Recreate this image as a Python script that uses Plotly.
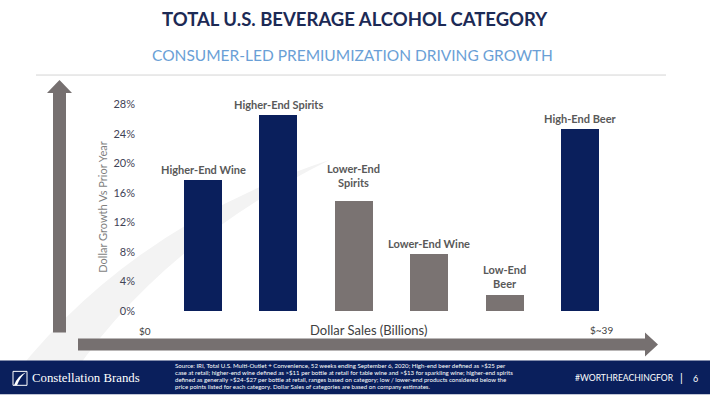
import plotly.graph_objects as go

# ---------------- data ----------------
categories = ["Higher-End Wine", "Higher-End Spirits", "Lower-End Spirits",
              "Lower-End Wine", "Low-End Beer", "High-End Beer"]
bar_labels = ["Higher-End Wine", "Higher-End Spirits", "Lower-End<br>Spirits",
              "Lower-End Wine", "Low-End<br>Beer", "High-End Beer"]
growth_pct = [17.8, 26.6, 14.9, 7.7, 2.2, 24.7]
tier = ["high", "high", "low", "low", "low", "high"]
y_ticks = [0, 4, 8, 12, 16, 20, 24, 28]
y_tick_labels = ["0%", "4%", "8%", "12%", "16%", "20%", "24%", "28%"]
x_axis_start_label = "$0"
x_axis_end_label = "$~39"

title = "TOTAL U.S. BEVERAGE ALCOHOL CATEGORY"
subtitle = "CONSUMER-LED PREMIUMIZATION DRIVING GROWTH"
source_lines = [
    "Source: IRI, Total U.S. Multi-Outlet + Convenience, 52 weeks ending September 6, 2020; High-end beer defined as >$25 per",
    "case at retail; higher-end wine defined as >$11 per bottle at retail for table wine and >$13 for sparkling wine; higher-end spirits",
    "defined as generally >$24-$27 per bottle at retail, ranges based on category; low / lower-end products considered below the",
    "price points listed for each category. Dollar Sales of categories are based on company estimates.",
]

# ---------------- style ----------------
NAVY = "#0a1f5c"
GRAY_BAR = "#7a7372"
ARROW = "#767070"
W, H = 710, 395
PL, PR, PT, PB = 140, 620, 95, 311.5  # plot area in pixels
label_gap = [2, 2, 10, 2, 3, 2]          # pixel gap between bar top and its label

colors = [NAVY if t == "high" else GRAY_BAR for t in tier]
x_pos = list(range(len(categories)))

def px(x):
    return (x - PL) / (PR - PL)

def py(y):
    return (PB - y) / (PB - PT)

fig = go.Figure()
fig.add_trace(go.Bar(
    x=x_pos, y=growth_pct, width=0.504,
    marker=dict(color=colors, line=dict(width=0)),
    hoverinfo="skip",
))

shapes = []
# background swoosh (decorative)
shapes.append(dict(type="path", xref="paper", yref="paper", layer="below",
    path=(f"M {px(0)},{py(395)} Q {px(120)},{py(230)} {px(330)},{py(160)} "
          f"Q {px(150)},{py(250)} {px(60)},{py(395)} Z"),
    fillcolor="#f3f3f3", line=dict(width=0)))
# top rule
shapes.append(dict(type="line", xref="paper", yref="paper",
    x0=px(36), x1=px(666), y0=py(75), y1=py(75),
    line=dict(color="#d4d4d4", width=1)))
# vertical arrow
shapes.append(dict(type="path", xref="paper", yref="paper",
    path=(f"M {px(53)},{py(333)} L {px(66)},{py(333)} L {px(66)},{py(93)} "
          f"L {px(72)},{py(93)} L {px(59.5)},{py(80)} L {px(47)},{py(93)} "
          f"L {px(53)},{py(93)} Z"),
    fillcolor=ARROW, line=dict(width=0)))
# horizontal arrow
shapes.append(dict(type="path", xref="paper", yref="paper",
    path=(f"M {px(78)},{py(339)} L {px(645)},{py(339)} L {px(645)},{py(333)} "
          f"L {px(658)},{py(345)} L {px(645)},{py(357)} L {px(645)},{py(351)} "
          f"L {px(78)},{py(351)} Z"),
    fillcolor=ARROW, line=dict(width=0)))
# footer band
shapes.append(dict(type="rect", xref="paper", yref="paper",
    x0=px(0), x1=px(710), y0=py(361), y1=py(395),
    fillcolor=NAVY, line=dict(width=0)))
# logo mark
shapes.append(dict(type="rect", xref="paper", yref="paper",
    x0=px(13), x1=px(27), y0=py(372), y1=py(386),
    fillcolor="rgba(0,0,0,0)", line=dict(color="white", width=1)))
shapes.append(dict(type="path", xref="paper", yref="paper",
    path=(f"M {px(14)},{py(386)} Q {px(18)},{py(376)} {px(26)},{py(373)} "
          f"Q {px(20)},{py(378)} {px(17)},{py(386)} Z"),
    fillcolor="white", line=dict(width=0)))

ann = []
# bar labels, anchored to the bar tops via the data axes
for xi, yi, lab, gap in zip(x_pos, growth_pct, bar_labels, label_gap):
    ann.append(dict(text=f"<b>{lab}</b>", x=xi, y=yi, xref="x", yref="y",
        xanchor="center", yanchor="bottom", yshift=gap, showarrow=False,
        font=dict(family="Lato", size=11, color="#595959")))

def add_text(text, x, y, size, color, family="Lato", anchor="center", angle=0):
    ann.append(dict(text=text, xref="paper", yref="paper", x=px(x), y=py(y),
        xanchor=anchor, yanchor="middle", showarrow=False, textangle=angle,
        font=dict(family=family, size=size, color=color)))

add_text(f"<b>{title}</b>", 355, 19, 18.5, "#1c2a55")
add_text(subtitle, 352, 55, 15.5, "#6a9fd6")
add_text("Dollar Growth Vs Prior Year", 103, 207, 11, "#7f7f7f", angle=-90)
add_text("Dollar Sales (Billions)", 368, 331, 13, "#404040")
add_text(x_axis_start_label, 145, 332, 10, "#404040")
add_text(x_axis_end_label, 601, 331, 10, "#404040")
add_text("Constellation Brands", 30, 378.5, 12.8, "white", family="Liberation Serif", anchor="left")
for i, line in enumerate(source_lines):
    add_text(line, 173, 366 + 7 * i, 6.1, "white", anchor="left")
add_text("#WORTHREACHINGFOR", 624.5, 379, 8.6, "white")
add_text("|", 681, 378, 11, "white")
add_text("6", 695, 379, 9, "white")

fig.update_layout(
    width=W, height=H, autosize=False,
    margin=dict(l=PL, r=W - PR, t=PT, b=H - PB, pad=0),
    paper_bgcolor="white", plot_bgcolor="rgba(0,0,0,0)",
    showlegend=False, shapes=shapes, annotations=ann,
    xaxis=dict(range=[(PL - 203) / 75.4, (PR - 203) / 75.4], showticklabels=False,
               showgrid=False, zeroline=False, showline=False, ticks=""),
    yaxis=dict(range=[0, (PB - PT) / 7.4], tickmode="array", tickvals=y_ticks,
               ticktext=y_tick_labels,
               tickfont=dict(family="Lato", size=11, color="#3f4356"),
               showgrid=False, zeroline=False, showline=False, ticks="",
               ticklabelstandoff=4),
    bargap=0,
)

fig.write_html("out.html", config={"displayModeBar": False},
               post_script="document.body.style.margin='0';document.body.style.padding='0';")
